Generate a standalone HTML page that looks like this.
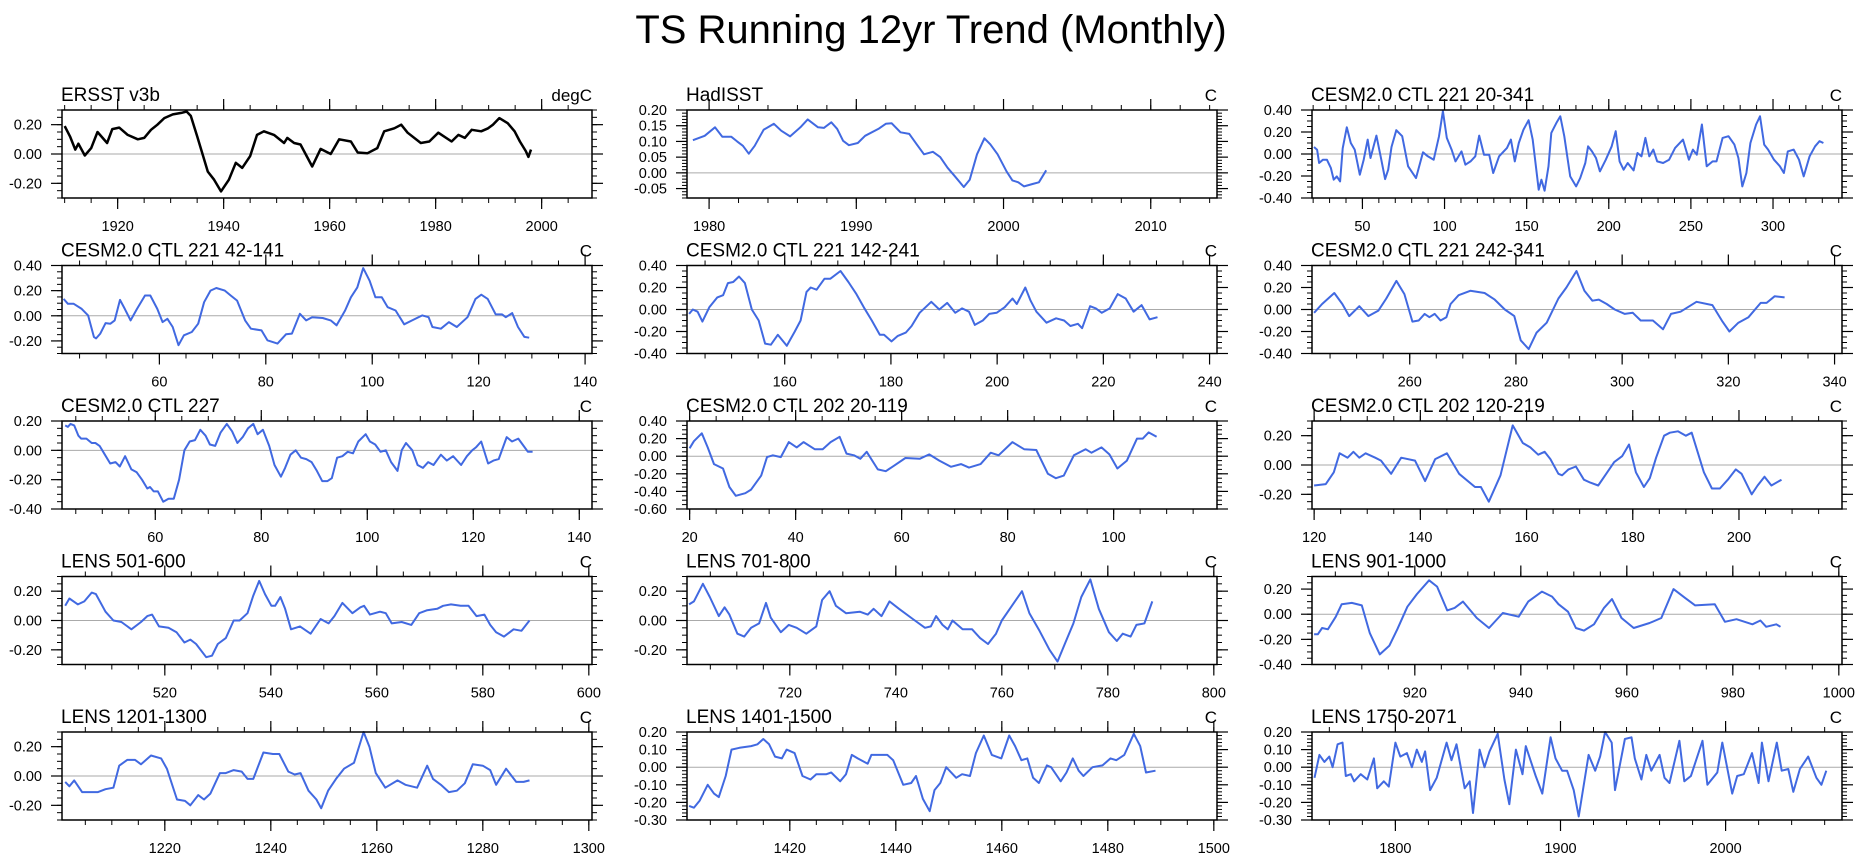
<!DOCTYPE html>
<html><head><meta charset="utf-8">
<style>
html,body{margin:0;padding:0;background:#fff;}
svg{display:block;font-family:"Liberation Sans",Arial,sans-serif;}
</style></head>
<body>
<svg id="chart" width="1863" height="858" viewBox="0 0 1863 858" xmlns="http://www.w3.org/2000/svg">
<text x="931" y="43" font-size="40" text-anchor="middle" fill="#000">TS Running 12yr Trend (Monthly)</text>
</svg>
<script>
// ---- data arrays ----
const ersstX=[1910,1911,1912,1912.6,1913.8,1915,1916.2,1918,1919,1920.3,1921.9,1923.8,1925,1926.3,1927.5,1928.8,1930.4,1932,1933,1933.8,1935,1937,1938.2,1939.5,1941,1942.3,1943.5,1945,1946.3,1947.6,1949.5,1951.4,1952,1953.3,1954.5,1956.7,1958.3,1960.2,1961.8,1964,1965.3,1967.1,1969,1970.3,1972.2,1973.5,1974.7,1977.2,1978.8,1980.5,1983,1984.3,1985.5,1986.8,1988.6,1989.9,1990.8,1992,1993.6,1994.9,1995.9,1997,1997.5,1998];
const ersstY=[0.19,0.12,0.03,0.07,-0.01,0.04,0.15,0.075,0.17,0.18,0.13,0.10,0.11,0.165,0.20,0.245,0.27,0.28,0.29,0.26,0.12,-0.12,-0.175,-0.255,-0.175,-0.06,-0.095,-0.015,0.13,0.155,0.13,0.075,0.11,0.075,0.065,-0.085,0.035,0.0,0.10,0.085,0.01,0.005,0.04,0.155,0.175,0.20,0.145,0.075,0.085,0.145,0.085,0.13,0.11,0.165,0.155,0.175,0.20,0.245,0.21,0.155,0.085,0.02,-0.02,0.03];
const hadX=[1978.9,1979.7,1980.4,1980.9,1981.5,1981.9,1982.3,1982.7,1983.1,1983.7,1984.4,1984.9,1985.5,1986.2,1986.7,1987.4,1987.8,1988.3,1988.7,1989.1,1989.5,1990.1,1990.6,1991.5,1992,1992.4,1993,1993.6,1994.1,1994.6,1995.2,1995.7,1996.2,1996.7,1997.3,1997.7,1998.2,1998.7,1999.1,1999.6,2000.2,2000.6,2001,2001.4,2002,2002.4,2002.9];
const hadY=[0.104,0.118,0.145,0.115,0.115,0.10,0.086,0.061,0.086,0.137,0.156,0.134,0.116,0.145,0.17,0.145,0.143,0.161,0.14,0.102,0.088,0.095,0.118,0.14,0.156,0.158,0.129,0.124,0.091,0.059,0.067,0.05,0.016,-0.011,-0.045,-0.022,0.059,0.11,0.091,0.059,0.005,-0.024,-0.03,-0.043,-0.035,-0.03,0.008];
const c221allX=[20.5,22.4,23.6,26,28.4,30.8,32.5,34.4,36.4,38,40.5,42.9,45.3,48.4,50.8,53.2,54.9,58.5,61.4,63.8,65.7,67.7,70.6,74.2,77.8,82.6,86.9,89.8,93.4,96.6,99,101.4,104.3,106.7,110.3,112.7,115.8,118.7,121.1,124,127.2,129.6,133.2,138,140.4,142.8,145.2,148.1,151.2,153.7,156.1,157.3,159,160.9,163.3,165,168.1,170.5,172.9,176.5,180.1,182.6,185.7,187.4,189.8,192.2,194.6,198.2,201.8,204.2,206.6,209,211.5,215.1,217.5,219.9,222.3,224.7,227.1,229.5,233.1,236.7,240.4,245.2,248.8,251.2,253.6,256.7,259.6,263.2,265.6,269.3,272.9,276.5,278.9,281.3,283.8,286.2,289.7,292.1,294.6,297,300.6,304.2,306.6,309,312.6,315.8,318.7,322.3,325.6,328.3,330.7];
const c221allY=[0.064,0.039,-0.082,-0.052,-0.052,-0.128,-0.234,-0.204,-0.249,0.052,0.243,0.100,0.040,-0.188,-0.052,0.131,-0.036,0.167,-0.043,-0.228,-0.143,0.064,0.216,0.162,-0.112,-0.219,0.015,-0.021,-0.052,0.161,0.389,0.146,0.040,-0.067,0.024,-0.097,-0.067,-0.021,0.167,-0.006,-0.006,-0.173,-0.021,0.055,0.131,-0.067,0.100,0.222,0.307,0.131,-0.173,-0.325,-0.234,-0.334,-0.112,0.192,0.283,0.343,0.161,-0.204,-0.295,-0.219,-0.082,0.070,0.024,-0.036,-0.158,-0.052,0.070,0.207,-0.067,-0.143,-0.082,-0.149,0.009,-0.021,0.146,-0.021,0.040,-0.067,-0.082,-0.052,0.055,0.131,-0.052,0.040,-0.006,0.268,-0.112,-0.067,-0.067,0.146,0.162,0.085,-0.036,-0.295,-0.173,0.100,0.268,0.343,0.085,0.040,-0.052,-0.112,-0.173,0.024,0.040,-0.052,-0.204,-0.021,0.070,0.116,0.100];
const c221aX=[42,42.8,43.9,45.4,46.6,47.7,48.1,48.9,49.9,50.8,51.6,52.6,53.5,54.6,55.8,57.3,58.3,59.6,60.6,61.5,62.5,63.6,64.6,66.1,67.3,68.4,69.6,70.7,72.3,73.4,74.6,76.1,77.2,79.2,80.3,82.2,83.8,84.9,86.4,87.6,88.7,90.7,92.2,93.3,94.9,96,97.2,98.3,99.5,100.6,101.8,102.9,104.4,106,107.5,109.4,110.6,111.3,112.9,114.4,115.9,117.9,119.4,120.5,121.7,123.2,124.4,125.1,126.3,127.4,128.6,129.5];
const c221aY=[0.134,0.095,0.095,0.055,0.003,-0.168,-0.18,-0.142,-0.058,-0.063,-0.037,0.126,0.055,-0.037,0.055,0.161,0.161,0.055,-0.05,-0.024,-0.089,-0.234,-0.155,-0.129,-0.063,0.108,0.2,0.221,0.2,0.161,0.121,-0.037,-0.103,-0.116,-0.195,-0.221,-0.147,-0.142,0.016,-0.037,-0.011,-0.018,-0.037,-0.076,0.042,0.147,0.226,0.379,0.279,0.147,0.147,0.068,0.042,-0.068,-0.037,0.003,-0.011,-0.089,-0.103,-0.05,-0.089,-0.011,0.134,0.168,0.134,0.011,0.011,-0.011,0.021,-0.089,-0.168,-0.174];
const c221bX=[142,142.7,143.6,144.5,145.8,147.3,148.4,149.3,150.3,151.4,152.5,153.8,155.1,156.3,157.4,158.7,160.4,161.9,163,164.1,164.9,166,167.5,168.6,170.5,172,173.5,174.9,176.4,177.9,178.7,180.1,181.3,182.8,183.9,185.4,187.6,189.1,190.6,192.1,193.4,194.7,195.8,197.3,198.5,199.9,201.4,202.9,203.7,205.3,206.3,207.4,209.3,211.1,212.6,213.8,215.2,216,217.5,218.6,219.7,221.2,222.7,224.2,225.7,227.2,228.7,230.2];
const c221bY=[-0.04,0.00,-0.02,-0.11,0.02,0.11,0.13,0.24,0.25,0.30,0.24,0.00,-0.10,-0.31,-0.32,-0.23,-0.33,-0.20,-0.10,0.16,0.20,0.18,0.28,0.28,0.35,0.25,0.14,0.02,-0.10,-0.23,-0.23,-0.29,-0.24,-0.21,-0.15,-0.03,0.07,0.00,0.06,-0.03,0.01,-0.02,-0.14,-0.10,-0.04,-0.03,0.02,0.10,0.05,0.20,0.08,-0.02,-0.12,-0.08,-0.10,-0.15,-0.13,-0.17,0.03,0.01,-0.03,0.01,0.14,0.10,-0.02,0.04,-0.09,-0.07];
const c221cX=[242,243.5,245.8,247.3,248.6,250.5,252.2,254.1,255.6,257.5,259,260.5,261.7,262.8,263.7,264.7,265.8,266.9,267.7,269.2,271.4,274.1,276,277.9,279.7,280.9,282.4,283.9,285.8,288,289.5,291.4,292.9,294.4,295.6,297.1,298.6,300.5,302,303.5,305.8,307.7,309.2,311,314,317,318.9,320.2,321.9,323.8,326.1,327.2,328.7,330.6];
const c221cY=[-0.03,0.05,0.15,0.05,-0.06,0.03,-0.06,-0.01,0.10,0.26,0.14,-0.11,-0.10,-0.04,-0.07,-0.04,-0.10,-0.07,0.05,0.13,0.17,0.15,0.09,0.00,-0.06,-0.28,-0.36,-0.21,-0.12,0.10,0.20,0.35,0.17,0.08,0.09,0.05,0.00,-0.04,-0.03,-0.10,-0.10,-0.18,-0.04,-0.02,0.07,0.04,-0.11,-0.20,-0.12,-0.07,0.06,0.06,0.12,0.11];
const c227X=[43,43.5,44,44.7,45.5,46,47,48,48.7,49.5,50.5,51.5,52.5,53.3,54.3,55.5,56.5,57.5,58.5,59,59.7,60.5,61.5,62.5,63.5,64.5,65.5,66.5,67.5,68.5,69.5,70.3,71.3,72.3,73.5,74.5,75.5,76.5,77.5,78.5,79.3,80.3,81.5,82.5,83.7,84.5,85.5,86.5,87.5,88.5,89.5,90.5,91.5,92.5,93.3,94.3,95.3,96.3,97.3,98.3,99.7,100.5,101.5,102.5,103.5,104.5,105.7,106.5,107.3,108.5,109.5,110.5,111.5,112.5,113.9,115,116.2,117.7,118.8,119.8,120.5,121.5,122.8,123.8,124.8,126.3,127.3,128.5,129.5,130.3,131.2];
const c227Y=[0.17,0.16,0.18,0.17,0.10,0.08,0.08,0.05,0.05,0.03,-0.03,-0.09,-0.08,-0.11,-0.04,-0.13,-0.15,-0.20,-0.26,-0.25,-0.28,-0.28,-0.35,-0.33,-0.33,-0.20,0.00,0.06,0.07,0.14,0.10,0.04,0.03,0.12,0.18,0.13,0.05,0.09,0.15,0.18,0.11,0.14,0.03,-0.10,-0.18,-0.12,-0.03,0.00,-0.05,-0.06,-0.08,-0.14,-0.21,-0.21,-0.19,-0.05,-0.04,-0.01,-0.02,0.06,0.11,0.06,0.04,-0.01,0.00,-0.08,-0.14,0.00,0.05,0.00,-0.10,-0.12,-0.08,-0.10,-0.03,-0.07,-0.04,-0.10,-0.04,0.00,0.02,0.06,-0.09,-0.07,-0.06,0.09,0.06,0.08,0.03,-0.01,-0.01];
const c202aX=[20,20.8,22.3,23.4,24.6,26.3,27.5,28.7,30.5,31.6,33.5,34.6,35.7,37.2,38.7,40.2,41.5,43.6,45.1,46.6,48.3,49.6,51,52.2,53.4,55.5,57,58.5,60.7,63.4,65.2,67.1,69.3,71.2,72.7,74.9,76.8,78.3,80.9,83.1,85.4,87.6,89.1,90.6,92.5,94.7,95.8,97.7,99.2,100.7,102.5,104.4,105.5,106.6,108.1];
const c202aY=[0.09,0.17,0.26,0.10,-0.09,-0.14,-0.35,-0.45,-0.42,-0.38,-0.22,-0.01,0.01,-0.01,0.16,0.10,0.16,0.08,0.08,0.16,0.22,0.03,0.01,-0.03,0.05,-0.15,-0.17,-0.11,-0.02,-0.03,0.02,-0.05,-0.12,-0.09,-0.13,-0.09,0.04,0.01,0.16,0.08,0.07,-0.20,-0.25,-0.22,0.01,0.08,0.04,0.10,0.02,-0.14,-0.05,0.20,0.20,0.27,0.22];
const c202bX=[120,122.2,123.7,124.8,126.3,127.4,128.5,129.7,131.5,132.6,134.5,136.4,139,140.9,142.8,145,147.3,150.3,151.4,152.9,155.1,157.4,159.3,160.7,162.2,163.4,164.5,166,166.7,167.9,169.3,170.8,172,173.5,175,176.5,178,179.3,180.6,182.1,183.2,184.4,185.9,187,188.5,190,191.1,193.4,194.9,196.4,197.9,199.4,200.5,202.4,203.5,204.8,206.1,208];
const c202bY=[-0.14,-0.13,-0.05,0.08,0.05,0.09,0.05,0.08,0.05,0.03,-0.06,0.05,0.03,-0.11,0.04,0.08,-0.06,-0.15,-0.15,-0.25,-0.07,0.27,0.15,0.12,0.07,0.09,0.04,-0.06,-0.07,-0.03,-0.01,-0.10,-0.12,-0.14,-0.06,0.02,0.06,0.14,-0.05,-0.15,-0.09,0.05,0.20,0.22,0.23,0.20,0.22,-0.05,-0.16,-0.16,-0.10,-0.03,-0.06,-0.20,-0.14,-0.08,-0.14,-0.10];
const lens5X=[501.2,502,503.6,504.8,506.2,507,508.8,510.3,511.8,513.7,515.5,516.7,517.6,518.9,520.7,522.2,523.7,524.8,525.9,527.8,528.9,530,531.5,533,534.1,535.6,536.7,537.8,538.9,540.1,540.8,541.8,542.7,543.8,545.5,547.5,549.4,550.9,552,553.5,555.4,556.9,557.6,558.7,560.6,561.7,562.8,564.7,566.5,568,569.5,571.4,572.5,574,575.8,577.3,578.8,580.3,581.4,582.5,584,585.8,587.3,588.8];
const lens5Y=[0.10,0.15,0.11,0.13,0.19,0.18,0.06,0.00,-0.01,-0.06,-0.01,0.03,0.04,-0.04,-0.05,-0.08,-0.15,-0.13,-0.16,-0.25,-0.24,-0.16,-0.12,0.00,0.00,0.05,0.17,0.27,0.18,0.10,0.10,0.16,0.08,-0.06,-0.04,-0.09,0.01,-0.02,0.03,0.12,0.05,0.09,0.10,0.04,0.06,0.05,-0.02,-0.01,-0.03,0.05,0.07,0.08,0.10,0.11,0.10,0.10,0.03,0.04,-0.03,-0.08,-0.11,-0.06,-0.07,0.00];
const lens7X=[701,701.9,703.6,704.9,706.6,707.7,708.6,710.1,711.4,712.7,714.2,715.5,716.4,718.3,719.8,721.3,723.1,725,726.1,727.5,728.7,730.6,733.2,734.7,735.8,737.3,738.8,740.6,743.2,745.5,746.6,747.6,748.8,749.8,750.7,752.6,754.4,755.9,757.4,758.9,760,761.9,763.8,765.2,767.1,769,770.5,772,773.5,775,776.7,778.3,780.2,781.7,782.8,784.3,785.4,786.9,788.4];
const lens7Y=[0.11,0.13,0.25,0.16,0.03,0.09,0.04,-0.09,-0.11,-0.05,-0.02,0.12,0.02,-0.08,-0.03,-0.05,-0.09,-0.04,0.14,0.20,0.10,0.05,0.06,0.04,0.08,0.03,0.13,0.08,0.01,-0.05,-0.04,0.03,-0.03,-0.06,0.00,-0.06,-0.06,-0.12,-0.16,-0.09,0.00,0.10,0.20,0.05,-0.07,-0.20,-0.28,-0.15,-0.02,0.16,0.28,0.08,-0.08,-0.14,-0.09,-0.11,-0.03,-0.02,0.13];
const lens9X=[901,901.7,902.5,903.6,905.1,906.2,908.1,910,911.5,913.4,915.2,916.7,918.6,920.4,922.7,924.2,926.1,927.5,929.1,931.7,934,936.6,939.6,941.4,944,945.9,947.1,948.9,950.4,951.9,953.8,955.7,957.2,959,961.3,964.3,966.5,968.8,971,972.9,976.6,978.5,980.7,983.7,985.2,986.3,988.2,989];
const lens9Y=[-0.16,-0.16,-0.11,-0.12,-0.02,0.08,0.09,0.07,-0.15,-0.32,-0.25,-0.12,0.06,0.16,0.27,0.22,0.03,0.05,0.10,-0.03,-0.11,0.01,-0.02,0.10,0.18,0.14,0.08,0.02,-0.11,-0.13,-0.08,0.05,0.12,-0.03,-0.11,-0.07,-0.03,0.20,0.13,0.07,0.08,-0.06,-0.04,-0.08,-0.05,-0.10,-0.08,-0.10];
const lens12X=[1201.2,1202,1202.9,1204.4,1205.9,1207.4,1208.8,1210.3,1211.4,1212.9,1214.4,1215.5,1217.4,1219.3,1220.4,1222.3,1223.8,1224.8,1226.3,1227.4,1228.6,1230.4,1231.5,1233,1234.5,1235.6,1236.7,1238.6,1240.4,1241.6,1243.3,1244.5,1245.6,1247.1,1248.6,1249.5,1250.8,1252.3,1253.8,1255.7,1257.5,1258.6,1259.8,1261.6,1263.9,1265.4,1267.6,1269.5,1270.6,1272.1,1273.6,1275.1,1276.6,1278.1,1280,1281.4,1282.5,1284.4,1286.3,1287.7,1288.8];
const lens12Y=[-0.04,-0.07,-0.03,-0.11,-0.11,-0.11,-0.09,-0.08,0.07,0.11,0.11,0.08,0.14,0.12,0.05,-0.16,-0.17,-0.20,-0.13,-0.16,-0.12,0.02,0.02,0.04,0.03,-0.02,-0.02,0.16,0.15,0.15,0.03,0.01,0.02,-0.10,-0.16,-0.22,-0.10,-0.02,0.05,0.09,0.30,0.20,0.02,-0.08,-0.03,-0.06,-0.08,0.07,-0.02,-0.06,-0.11,-0.10,-0.05,0.08,0.07,0.04,-0.06,0.05,-0.04,-0.04,-0.03];
const lens14X=[1401,1401.9,1403,1404.5,1405.7,1406.6,1407.9,1409,1410.5,1412.7,1413.9,1415,1416.1,1417.2,1418.5,1419.4,1420.9,1422.4,1423.9,1425,1426.9,1427.8,1429.5,1430.6,1431.7,1432.8,1434.7,1435.4,1438.4,1439.5,1441.4,1442.9,1443.8,1445.1,1446.4,1447.3,1448.4,1449.5,1451.4,1452.5,1454,1455.1,1456.6,1458.1,1459.9,1461.4,1462.5,1463.7,1464.8,1465.9,1467,1468.5,1469.3,1471.1,1472.2,1473.4,1474.5,1475.4,1477.1,1479,1480.5,1481.6,1483.1,1484.9,1486.1,1487.2,1489];
const lens14Y=[-0.22,-0.23,-0.19,-0.10,-0.15,-0.17,-0.05,0.10,0.11,0.12,0.13,0.16,0.13,0.06,0.05,0.10,0.08,-0.05,-0.07,-0.04,-0.04,-0.03,-0.08,-0.04,0.07,0.05,0.02,0.07,0.07,0.04,-0.10,-0.09,-0.05,-0.18,-0.25,-0.13,-0.09,0.00,-0.06,-0.04,-0.05,0.08,0.18,0.07,0.05,0.18,0.12,0.04,0.05,-0.06,-0.09,0.01,0.00,-0.08,-0.03,0.05,-0.02,-0.05,0.00,0.01,0.05,0.04,0.07,0.19,0.12,-0.03,-0.02];
const lensLongX=[1751,1754,1757,1760,1762,1765,1768,1770,1773,1775,1779,1783,1787,1789,1793,1796,1800,1803,1807,1810,1813,1816,1818,1821,1825,1831,1834,1837,1842,1845,1847,1851,1854,1857,1862,1866,1869,1873,1877,1879,1885,1889,1894,1897,1901,1904,1908,1911,1917,1921,1924,1927,1931,1933,1939,1943,1945,1949,1952,1955,1960,1963,1966,1972,1975,1979,1986,1989,1995,1998,2004,2007,2011,2016,2020,2022,2026,2031,2034,2038,2041,2045,2050,2055,2058,2061];
const lensLongY=[-0.06,0.07,0.03,0.06,0.00,0.13,0.14,-0.05,-0.04,-0.08,-0.04,-0.07,0.05,-0.12,-0.08,-0.11,0.14,0.06,0.08,0.00,0.10,0.03,0.09,-0.13,-0.06,0.14,0.04,0.13,-0.12,-0.08,-0.26,0.10,0.00,0.09,0.19,-0.07,-0.21,0.10,-0.04,0.12,-0.05,-0.15,0.17,0.05,-0.02,-0.02,-0.13,-0.28,0.07,-0.02,0.06,0.20,0.14,-0.13,0.16,0.17,0.05,-0.07,0.07,-0.02,0.07,-0.06,-0.09,0.15,-0.08,-0.05,0.15,-0.10,-0.03,0.14,-0.15,-0.05,-0.04,0.08,-0.09,0.14,-0.08,0.14,-0.02,-0.01,-0.14,-0.01,0.06,-0.06,-0.10,-0.02];

// ---- panel definitions ----
const panelTitles=["ERSST v3b","HadISST","CESM2.0 CTL 221 20-341","CESM2.0 CTL 221 42-141","CESM2.0 CTL 221 142-241","CESM2.0 CTL 221 242-341","CESM2.0 CTL 227","CESM2.0 CTL 202 20-119","CESM2.0 CTL 202 120-219","LENS 501-600","LENS 701-800","LENS 901-1000","LENS 1201-1300","LENS 1401-1500","LENS 1750-2071"];
const panelUnits=["degC","C","C","C","C","C","C","C","C","C","C","C","C","C","C"];
const seriesX=[ersstX,hadX,c221allX,c221aX,c221bX,c221cX,c227X,c202aX,c202bX,lens5X,lens7X,lens9X,lens12X,lens14X,lensLongX];
const seriesY=[ersstY,hadY,c221allY,c221aY,c221bY,c221cY,c227Y,c202aY,c202bY,lens5Y,lens7Y,lens9Y,lens12Y,lens14Y,lensLongY];
const xDomains=[[1909.5,2009.5],[1978.5,2014.5],[19.3,342],[41.7,141.3],[141.6,241.4],[241.6,341.4],[42.4,142.4],[19.5,119.5],[119.6,219.4],[500.6,600.6],[700.6,800.6],[900.6,1000.6],[1200.6,1300.6],[1400.6,1500.6],[1749.5,2070.5]];
const xTickLabels=[[1920,1940,1960,1980,2000],[1980,1990,2000,2010],[50,100,150,200,250,300],[60,80,100,120,140],[160,180,200,220,240],[260,280,300,320,340],[60,80,100,120,140],[20,40,60,80,100],[120,140,160,180,200],[520,540,560,580,600],[720,740,760,780,800],[920,940,960,980,1000],[1220,1240,1260,1280,1300],[1420,1440,1460,1480,1500],[1800,1900,2000]];
const xMinorSteps=[5,2,10,5,5,5,5,5,5,5,5,5,5,5,20];
const yDomains=[[-0.3,0.3],[-0.08,0.2],[-0.4,0.4],[-0.3,0.4],[-0.4,0.4],[-0.4,0.4],[-0.4,0.2],[-0.6,0.4],[-0.3,0.3],[-0.3,0.3],[-0.3,0.3],[-0.4,0.3],[-0.3,0.3],[-0.3,0.2],[-0.3,0.2]];
const yTickLabels=[["0.20","0.00","-0.20"],["0.20","0.15","0.10","0.05","0.00","-0.05"],["0.40","0.20","0.00","-0.20","-0.40"],["0.40","0.20","0.00","-0.20"],["0.40","0.20","0.00","-0.20","-0.40"],["0.40","0.20","0.00","-0.20","-0.40"],["0.20","0.00","-0.20","-0.40"],["0.40","0.20","0.00","-0.20","-0.40","-0.60"],["0.20","0.00","-0.20"],["0.20","0.00","-0.20"],["0.20","0.00","-0.20"],["0.20","0.00","-0.20","-0.40"],["0.20","0.00","-0.20"],["0.20","0.10","0.00","-0.10","-0.20","-0.30"],["0.20","0.10","0.00","-0.10","-0.20","-0.30"]];
const yMinorSteps=[0.05,0.01,0.05,0.05,0.05,0.05,0.05,0.05,0.05,0.05,0.05,0.05,0.05,0.02,0.02];

// ---- layout ----
const colLeft=[62,687,1312], rowTop=[110,265.5,421,576.5,732], PW=530, PH=88;
const svg=document.getElementById('chart');
const NS='http://www.w3.org/2000/svg';
function mk(tag,attrs,parent){const e=document.createElementNS(NS,tag);for(const k in attrs)e.setAttribute(k,attrs[k]);(parent||svg).appendChild(e);return e;}

for(let p=0;p<15;p++){
  const L=colLeft[p%3], T=rowTop[Math.floor(p/3)], R=L+PW, B=T+PH;
  const [x0,x1]=xDomains[p], [y0,y1]=yDomains[p];
  const sx=v=>L+(v-x0)/(x1-x0)*PW;
  const sy=v=>B-(v-y0)/(y1-y0)*PH;
  const g=mk('g',{});
  
  
  // title & unit
  const t=mk('text',{x:L-1,y:T-9,'font-size':19,fill:'#000'},g);
  t.textContent=panelTitles[p];
  
  
  const u=mk('text',{x:R,y:T-9,'font-size':17,'text-anchor':'end',fill:'#000'},g);
  u.textContent=panelUnits[p];
  
  
  // zero line
  if(y0<0&&y1>0){const z=mk('line',{x1:L,x2:R,y1:sy(0),y2:sy(0),stroke:'#aaa','stroke-width':1},g);
    
    }
  // y minor ticks
  const ms=yMinorSteps[p];
  for(let k=Math.ceil(y0/ms-1e-6);k*ms<=y1+1e-9;k++){const v=k*ms,y=sy(v);
    mk('line',{x1:L-5,x2:L,y1:y,y2:y,stroke:'#000','stroke-width':1},g);
    mk('line',{x1:R,x2:R+5,y1:y,y2:y,stroke:'#000','stroke-width':1},g);}
  // y major ticks + labels
  yTickLabels[p].forEach(s=>{const y=sy(parseFloat(s));
    mk('line',{x1:L-11,x2:L,y1:y,y2:y,stroke:'#000','stroke-width':1.2},g);
    mk('line',{x1:R,x2:R+11,y1:y,y2:y,stroke:'#000','stroke-width':1.2},g);
    const lb=mk('text',{x:L-20,y:y+5,'font-size':14.5,'text-anchor':'end',fill:'#000'},g);
    lb.textContent=s;
    
    });
  // x minor ticks
  const xs=xMinorSteps[p];
  for(let k=Math.ceil(x0/xs);k*xs<=x1;k++){const x=sx(k*xs);
    mk('line',{x1:x,x2:x,y1:B,y2:B+5,stroke:'#000','stroke-width':1},g);
    mk('line',{x1:x,x2:x,y1:T-5,y2:T,stroke:'#000','stroke-width':1},g);}
  xTickLabels[p].forEach(v=>{const x=sx(v);
    mk('line',{x1:x,x2:x,y1:B,y2:B+11,stroke:'#000','stroke-width':1.2},g);
    mk('line',{x1:x,x2:x,y1:T-11,y2:T,stroke:'#000','stroke-width':1.2},g);
    const lb=mk('text',{x:x,y:B+33,'font-size':14.5,'text-anchor':'middle',fill:'#000'},g);
    lb.textContent=String(v);
    
    });
  // series
  const X=seriesX[p],Y=seriesY[p];
  let d='';for(let i=0;i<X.length;i++)d+=(i?'L':'M')+sx(X[i]).toFixed(1)+','+sy(Y[i]).toFixed(1);
  const ln=mk('path',{d:d,fill:'none',stroke:p===0?'#000':'#4169e1','stroke-width':p===0?2.5:2,'stroke-linejoin':'round'},g);
  
  
  // frame
  const fr=mk('rect',{x:L,y:T,width:PW,height:PH,fill:'none',stroke:'#000','stroke-width':1.5},g);
  
  
}
</script>
</body></html>
